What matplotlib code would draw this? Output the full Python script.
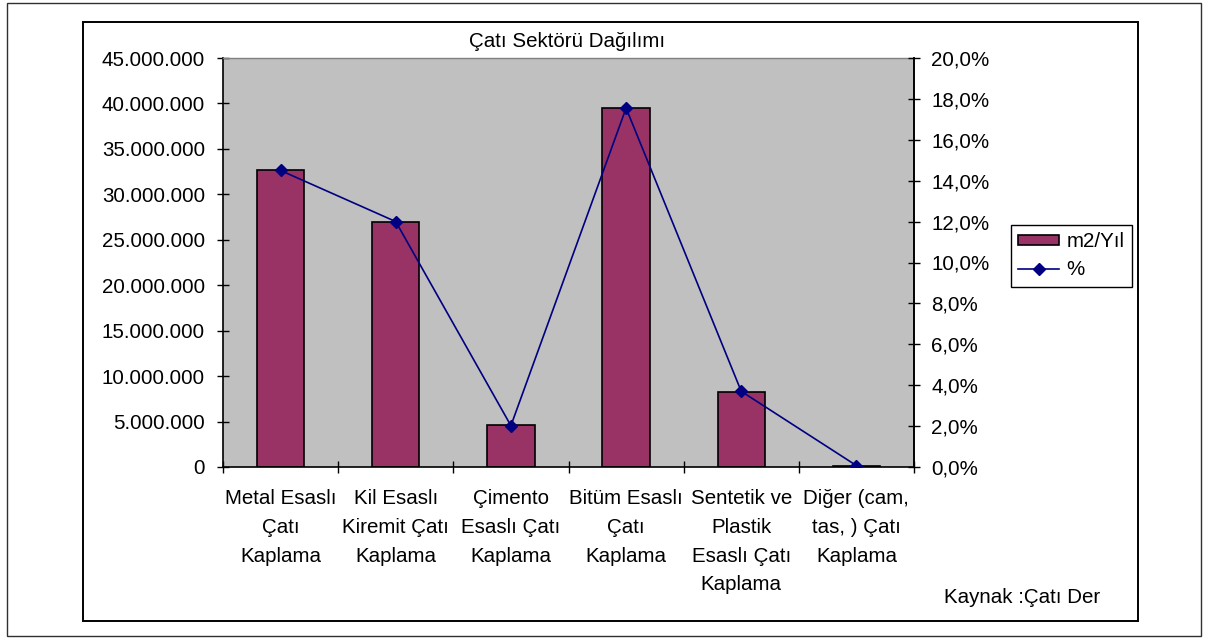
"""
Çatı sektörü dağılımı: m2/Yıl bars (left axis) with the % share line (right axis).
Writes out.png.
"""

import matplotlib

matplotlib.use("Agg")
import matplotlib.pyplot as plt
from matplotlib.patches import Rectangle, Patch
from matplotlib.lines import Line2D
from matplotlib.ticker import FuncFormatter, MultipleLocator

plt.rcParams["font.family"] = ["Liberation Sans", "DejaVu Sans"]
FS = 14.8

categories = [
    "Metal Esaslı\nÇatı\nKaplama",
    "Kil Esaslı\nKiremit Çatı\nKaplama",
    "Çimento\nEsaslı Çatı\nKaplama",
    "Bitüm Esaslı\nÇatı\nKaplama",
    "Sentetik ve\nPlastik\nEsaslı Çatı\nKaplama",
    "Diğer (cam,\ntas, ) Çatı\nKaplama",
]
m2_per_year = [32_700_000, 27_000_000, 4_600_000, 39_500_000, 8_300_000, 150_000]
share_pct = [14.5, 12.0, 2.02, 17.55, 3.7, 0.07]

BAR_COLOR = "#993366"
LINE_COLOR = "#000080"
BG = "#C0C0C0"

W, H = 1206, 639


def fx(px):
    return px / W


def fy(py):
    return 1 - py / H


def thousands(v, _):
    return "{:,.0f}".format(v).replace(",", ".")


def pct(v, _):
    return "{:.1f}%".format(v * 100).replace(".", ",")


def main():
    fig = plt.figure(figsize=(W / 100, H / 100), dpi=100)

    # outer frame and chart-area frame
    fig.add_artist(Rectangle((fx(7), fy(636)), fx(1201) - fx(7), fy(3) - fy(636),
                             transform=fig.transFigure, fill=False,
                             edgecolor="#303030", lw=1.0))
    fig.add_artist(Rectangle((fx(83), fy(621)), fx(1138) - fx(83), fy(22) - fy(621),
                             transform=fig.transFigure, fill=False,
                             edgecolor="black", lw=1.4))

    ax = fig.add_axes([fx(223), fy(467), fx(914) - fx(223), fy(58) - fy(467)])
    ax.set_facecolor(BG)
    x = list(range(len(categories)))
    ax.bar(x, m2_per_year, width=0.41, color=BAR_COLOR, edgecolor="black", lw=1.2)
    ax.set_xlim(-0.5, len(categories) - 0.5)
    ax.set_ylim(0, 45_000_000)
    ax.yaxis.set_major_locator(MultipleLocator(5_000_000))
    ax.yaxis.set_major_formatter(FuncFormatter(thousands))
    ax.tick_params(axis="y", direction="inout", length=9, width=1, pad=8.5,
                   labelsize=FS)

    ax.set_xticks(x)
    ax.set_xticklabels(categories, fontsize=FS, linespacing=1.65)
    ax.tick_params(axis="x", which="major", length=0, pad=16)
    ax.set_xticks([i - 0.5 for i in range(len(categories) + 1)], minor=True)
    ax.tick_params(axis="x", which="minor", direction="inout", length=9, width=1)

    for side in ("left", "bottom", "right"):
        ax.spines[side].set_color("black")
        ax.spines[side].set_linewidth(1.2)
    ax.spines["top"].set_color("#808080")
    ax.spines["top"].set_linewidth(1.0)

    ax2 = ax.twinx()
    ax2.plot(x, [p / 100 for p in share_pct], color=LINE_COLOR, lw=1.2,
             marker="D", markersize=6.5)
    ax2.set_ylim(0, 0.20)
    ax2.yaxis.set_major_locator(MultipleLocator(0.02))
    ax2.yaxis.set_major_formatter(FuncFormatter(pct))
    ax2.tick_params(axis="y", direction="inout", length=9, width=1, pad=8,
                    labelsize=FS)
    for side in ("top", "left", "bottom"):
        ax2.spines[side].set_visible(False)
    ax2.spines["right"].set_color("black")
    ax2.spines["right"].set_linewidth(1.2)

    handles = [
        Patch(facecolor=BAR_COLOR, edgecolor="black", lw=1.2),
        Line2D([], [], color=LINE_COLOR, lw=1.2, marker="D", markersize=6.5),
    ]
    leg = ax2.legend(handles, ["m2/Yıl", "%"], loc="upper left",
                     bbox_to_anchor=(fx(1011), fy(225)),
                     bbox_transform=fig.transFigure, borderaxespad=0,
                     fontsize=FS, frameon=True, fancybox=False,
                     edgecolor="black", framealpha=1, borderpad=0.35,
                     handlelength=2.0, handleheight=0.35, handletextpad=0.35,
                     labelspacing=0.45)
    leg.get_frame().set_linewidth(1.0)

    fig.text(fx(567), fy(47), "Çatı Sektörü Dağılımı", ha="center",
             va="baseline", fontsize=FS)
    fig.text(fx(944), fy(603), "Kaynak :Çatı Der", ha="left",
             va="baseline", fontsize=FS)

    fig.savefig("out.png", dpi=100)
    plt.close(fig)


if __name__ == "__main__":
    main()
